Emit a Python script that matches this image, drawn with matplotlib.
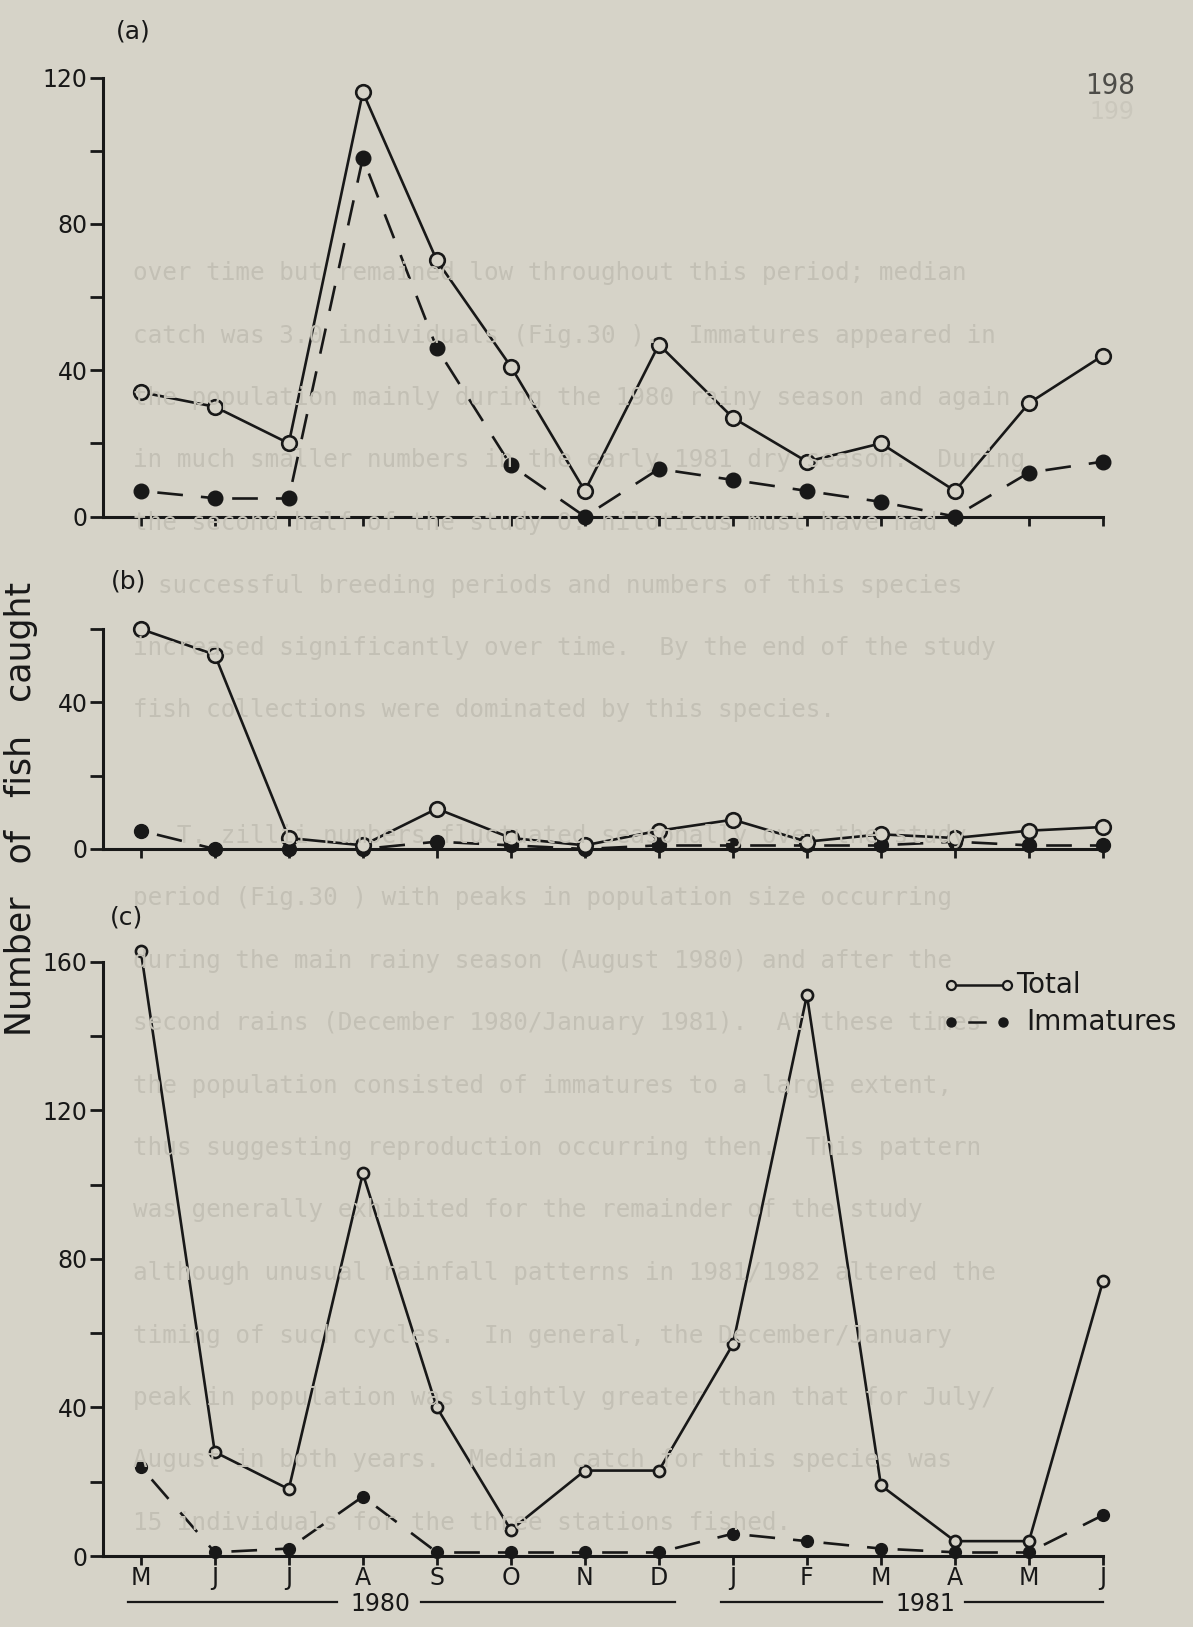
import matplotlib
matplotlib.use("Agg")
import matplotlib.pyplot as plt
from matplotlib.lines import Line2D

plt.rcParams["lines.scale_dashes"] = False
plt.rcParams["font.family"] = ["DejaVu Sans"]

# ---- data -------------------------------------------------------------
months = ["M", "J", "J", "A", "S", "O", "N", "D", "J", "F", "M", "A", "M", "J"]

# (a)
total_a = [34, 30, 20, 116, 70, 41, 7, 47, 27, 15, 20, 7, 31, 44]
immat_a = [7, 5, 5, 98, 46, 14, 0, 13, 10, 7, 4, 0, 12, 15]
# (b)
total_b = [60, 53, 3, 1, 11, 3, 1, 5, 8, 2, 4, 3, 5, 6]
immat_b = [5, 0, 0, 0, 2, 1, 0, 1, 1, 1, 1, 2, 1, 1]
# (c)
total_c = [163, 28, 18, 103, 40, 7, 23, 23, 57, 151, 19, 4, 4, 74]
immat_c = [24, 1, 2, 16, 1, 1, 1, 1, 6, 4, 2, 1, 1, 11]

panel_names = ["(a)", "(b)", "(c)"]
panel_ymax = [120, 60, 160]
panel_ylabels = [[0, 40, 80, 120], [0, 40], [0, 40, 80, 120, 160]]
years = ["1980", "1981"]
legend_names = ["Total", "Immatures"]
ylabel = "Number   of   fish   caught"

# Background page text (typescript printed on the sheet)
page_lines = [
    "over time but remained low throughout this period; median",
    "catch was 3.0 individuals (Fig.30 ).  Immatures appeared in",
    "the population mainly during the 1980 rainy season and again",
    "in much smaller numbers in the early 1981 dry season.  During",
    "the second half of the study O. niloticus must have had",
    "successful breeding periods and numbers of this species",
    "increased significantly over time.  By the end of the study",
    "fish collections were dominated by this species.",
    "",
    "   T. zillii numbers fluctuated seasonally over the study",
    "period (Fig.30 ) with peaks in population size occurring",
    "during the main rainy season (August 1980) and after the",
    "second rains (December 1980/January 1981).  At these times",
    "the population consisted of immatures to a large extent,",
    "thus suggesting reproduction occurring then.  This pattern",
    "was generally exhibited for the remainder of the study",
    "although unusual rainfall patterns in 1981/1982 altered the",
    "timing of such cycles.  In general, the December/January",
    "peak in population was slightly greater than that for July/",
    "August in both years.  Median catch for this species was",
    "15 individuals for the three stations fished.",
]

# ---- styling ----------------------------------------------------------
W, H = 1193, 1627
BG = "#d6d3c8"
INK = "#181818"
FAINT = "#c3c0b5"

fig = plt.figure(figsize=(W / 100, H / 100), dpi=100, facecolor=BG)

def fx(px):
    return px / W

def fy(py):
    return 1 - py / H

# faint typescript behind the figure
for i, line in enumerate(page_lines):
    x0 = 158 if i == 5 else 133
    fig.text(fx(x0), fy(273 + 62.5 * i), line, family="DejaVu Sans Mono",
             fontsize=17.5, color=FAINT, ha="left", va="center", zorder=0)
fig.text(fx(1112), fy(112), "199", fontsize=17, color="#cac7bc",
         ha="center", va="center", zorder=0)

# axes boxes: (top_px, bottom_px)
boxes = [(77.5, 516.5), (629, 849), (961.7, 1556)]
left_px, right_px = 103, 1103

x = list(range(len(months)))
series = [(total_a, immat_a), (total_b, immat_b), (total_c, immat_c)]
marker_sizes = [10.5, 10.5, 8.0]
dot_sizes = [10.5, 10.0, 8.5]

on_pt, off_pt = 18.5, 13.0
start_pt = 12.0
dash_style = (on_pt + off_pt - start_pt, (on_pt, off_pt))

axes = []
for k, ((tp, bp), (tot, imm)) in enumerate(zip(boxes, series)):
    ax = fig.add_axes([fx(left_px), fy(bp), fx(right_px) - fx(left_px), fy(tp) - fy(bp)])
    ax.set_facecolor("none")
    for s in ("top", "right"):
        ax.spines[s].set_visible(False)
    for s in ("left", "bottom"):
        ax.spines[s].set_linewidth(2.2)
        ax.spines[s].set_color(INK)
    ymax = panel_ymax[k]
    ax.set_xlim(-0.51, 13)
    ax.set_ylim(0, ymax)
    ax.set_xticks(x)
    yt = list(range(0, ymax + 1, 20))
    ax.set_yticks(yt)
    ax.set_yticklabels([str(v) if v in panel_ylabels[k] else "" for v in yt])
    ax.tick_params(axis="y", length=9.6, width=2.0, direction="out", pad=1.5,
                   labelsize=17, colors=INK)
    ax.tick_params(axis="x", length=6.5, width=2.0, direction="out", pad=0.5,
                   labelsize=17, colors=INK)
    if k == 2:
        ax.set_xticklabels(months)
    else:
        ax.set_xticklabels([])

    # immatures: dashed segments between filled dots
    for i in range(len(x) - 1):
        ax.plot(x[i:i + 2], imm[i:i + 2], color=INK, lw=1.9, ls=dash_style,
                dash_capstyle="butt", clip_on=False, zorder=3)
    ax.plot(x, imm, ls="none", marker="o", ms=dot_sizes[k], mfc=INK, mec=INK,
            clip_on=False, zorder=4)
    # totals: solid line with open circles
    ax.plot(x, tot, color=INK, lw=1.9, marker="o", ms=marker_sizes[k], mfc=BG,
            mec=INK, mew=1.9, clip_on=False, zorder=5)
    axes.append(ax)

# panel letters
for name, (px, py) in zip(panel_names, [(133, 31), (129, 581), (126, 917)]):
    fig.text(fx(px), fy(py), name, fontsize=18, color=INK, ha="center", va="center")

# y label
fig.text(fx(21), fy(809), ylabel, rotation=90, fontsize=25, color=INK,
         ha="center", va="center")

# page number
fig.text(fx(1110), fy(86), "198", fontsize=21, fontstretch="condensed",
         color="#4d4c48", ha="center", va="center")

# legend
ly1, ly2 = fy(985), fy(1022)
fig.add_artist(Line2D([fx(951), fx(1007)], [ly1, ly1], transform=fig.transFigure,
                      color=INK, lw=1.8, marker="o", ms=6.5, mfc=BG, mec=INK, mew=1.6))
fig.add_artist(Line2D([fx(969), fx(985)], [ly2, ly2], transform=fig.transFigure,
                      color=INK, lw=1.8))
fig.add_artist(Line2D([fx(951), fx(1003)], [ly2, ly2], transform=fig.transFigure,
                      ls="none", marker="o", ms=6.5, mfc=INK, mec=INK))
fig.text(fx(1016), ly1, legend_names[0], fontsize=20, color=INK, ha="left", va="center")
fig.text(fx(1026), ly2, legend_names[1], fontsize=20, color=INK, ha="left", va="center")

# year brackets under the month axis
yy = fy(1602)
for (a0, a1), (b0, b1), (tx, lab) in [((128, 337), (421, 675), (380, years[0])),
                                      ((721, 882), (965, 1103), (925, years[1]))]:
    fig.add_artist(Line2D([fx(a0), fx(a1)], [yy, yy], transform=fig.transFigure,
                          color=INK, lw=1.6))
    fig.add_artist(Line2D([fx(b0), fx(b1)], [yy, yy], transform=fig.transFigure,
                          color=INK, lw=1.6))
    fig.text(fx(tx), fy(1604), lab, fontsize=17, color=INK, ha="center", va="center")

fig.savefig("out.png", dpi=100, facecolor=BG)
